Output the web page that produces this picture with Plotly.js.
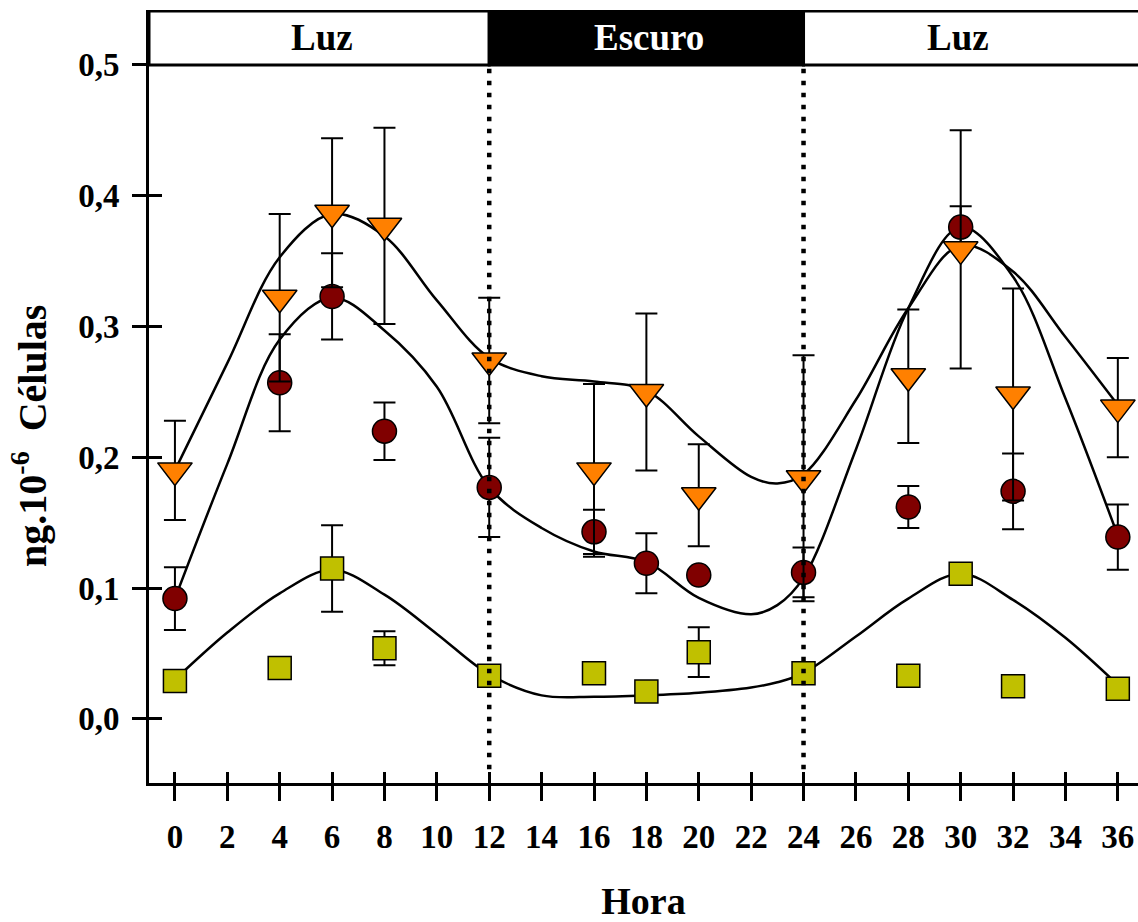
<!DOCTYPE html>
<html>
<head>
<meta charset="utf-8">
<script src="https://cdn.plot.ly/plotly-3.0.1.min.js"></script>
<style>html,body{margin:0;padding:0;background:#fff;}#chart{width:1138px;height:922px;}</style>
</head>
<body>
<div id="chart"></div>
<script>
// Sampling hours
var hours = [0, 4, 6, 8, 12, 16, 18, 20, 24, 28, 30, 32, 36];
// Series values (ng.10^-6 células)
var orangeVals = [0.190, 0.322, 0.387, 0.377, 0.274, 0.190, 0.250, 0.171, 0.184, 0.262, 0.359, 0.248, 0.238];
var orangeErr  = [0.038, 0.064, 0.057, 0.075, 0.048, 0.066, 0.060, 0.039, 0.094, 0.051, 0.091, 0.081, 0.038];
var redVals    = [0.092, 0.257, 0.323, 0.220, 0.177, 0.143, 0.119, 0.110, 0.112, 0.162, 0.376, 0.174, 0.139];
var redErr     = [0.024, 0.037, 0.033, 0.022, 0.038, 0.017, 0.023, 0.004, 0.019, 0.016, 0.016, 0.029, 0.025];
var yellowVals = [0.029, 0.039, 0.115, 0.054, 0.033, 0.035, 0.021, 0.051, 0.035, 0.033, 0.111, 0.025, 0.023];
var yellowErr  = [0, 0, 0.033, 0.013, 0, 0, 0, 0.019, 0, 0, 0, 0, 0];
// Fitted curves
var fitHours   = [0, 2, 4, 6, 8, 10, 12, 14, 16, 18, 20, 22, 23, 24, 26, 28, 30, 32, 34, 36];
var orangeFit  = [0.190, 0.272, 0.353, 0.386, 0.369, 0.320, 0.276, 0.262, 0.258, 0.251, 0.216, 0.185, 0.180, 0.187, 0.244, 0.314, 0.362, 0.342, 0.292, 0.240];
var redFit     = [0.092, 0.195, 0.290, 0.322, 0.297, 0.254, 0.177, 0.146, 0.128, 0.120, 0.0925, 0.080, 0.087, 0.108, 0.206, 0.314, 0.376, 0.338, 0.245, 0.140];
var yellowFit  = [0.030, 0.066, 0.096, 0.114, 0.095, 0.065, 0.034, 0.018, 0.017, 0.018, 0.020, 0.024, 0.028, 0.035, 0.063, 0.092, 0.111, 0.091, 0.062, 0.026];
// Tick values
var xTicks = [0,2,4,6,8,10,12,14,16,18,20,22,24,26,28,30,32,34,36];
var yTicks = [0, 0.1, 0.2, 0.3, 0.4, 0.5];
// Phase bar
var phaseLabels = ['Luz', 'Escuro', 'Luz'];
var phaseStart = [null, 12, 24];
var phaseEnd = [12, 24, null];
var phaseCenters = [5.6, 18.1, 29.9];
var phaseDividers = [12, 24];

var FONT = 'Liberation Serif, Times New Roman, serif';
var xRange = [-0.99, 36.77];
var yRange = [-0.049, 0.542];

function fitTrace(y) {
  return {x: fitHours, y: y, mode: 'lines', line: {color: 'black', width: 2.5, shape: 'spline', smoothing: 1},
          hoverinfo: 'skip', showlegend: false, xaxis: 'x', yaxis: 'y'};
}
function ptTrace(name, y, err, symbol, color, size) {
  return {x: hours, y: y, name: name, mode: 'markers', xaxis: 'x2', yaxis: 'y2', showlegend: false,
          marker: {symbol: symbol, size: size, color: color, line: {color: 'black', width: 1.5}},
          error_y: {type: 'data', array: err, visible: true, color: 'black', thickness: 2, width: 11}};
}

var traces = [
  fitTrace(orangeFit), fitTrace(redFit), fitTrace(yellowFit),
  ptTrace('Quadrado', yellowVals, yellowErr, 'square', '#C0C000', 23),
  ptTrace('Círculo', redVals, redErr, 'circle', '#800000', 24),
  ptTrace('Triângulo', orangeVals, orangeErr, 'triangle-down', '#FF8000', 30)
];

var shapes = [];
var annotations = [];
for (var i = 0; i < phaseLabels.length; i++) {
  var dark = phaseLabels[i] === 'Escuro';
  shapes.push({type: 'rect', xref: 'x', yref: 'y',
    x0: phaseStart[i] === null ? xRange[0] : phaseStart[i],
    x1: phaseEnd[i] === null ? xRange[1] + 0.5 : phaseEnd[i],
    y0: 0.5, y1: 0.5412, fillcolor: dark ? 'black' : 'white', line: {color: 'black', width: 3}, layer: 'above'});
  annotations.push({x: phaseCenters[i], y: 0.5212, xref: 'x', yref: 'y', text: '<b>' + phaseLabels[i] + '</b>',
    showarrow: false, font: {family: FONT, size: 37, color: dark ? 'white' : 'black'}});
}
for (var j = 0; j < phaseDividers.length; j++) {
  shapes.push({type: 'line', xref: 'x', yref: 'y', x0: phaseDividers[j], x1: phaseDividers[j], y0: 0.497, y1: -0.04,
    line: {color: 'black', width: 4.5, dash: '4.5px,7.5px'}, layer: 'above'});
}
// y-axis title (placed as in the reference, slightly below the plot centre)
annotations.push({xref: 'paper', yref: 'paper', x: -0.1203, y: 0.449, xanchor: 'center', yanchor: 'middle',
  textangle: -90, showarrow: false, text: '<b>ng.10<sup>-6</sup>  Células</b>',
  font: {family: FONT, size: 40, color: 'black'}});

var tickFont = {family: FONT, size: 33, color: 'black', weight: 'bold'};
var layout = {
  width: 1138, height: 922,
  margin: {l: 149, r: 0, t: 10, b: 139, pad: 0},
  paper_bgcolor: 'white', plot_bgcolor: 'white',
  separators: ',.',
  showlegend: false,
  font: {family: FONT, color: 'black'},
  xaxis: {range: xRange, tickvals: xTicks, ticktext: xTicks.map(String), ticks: 'outside', ticklen: 15, tickwidth: 3,
    tickcolor: 'black', showline: true, linewidth: 3, linecolor: 'black', showgrid: false, zeroline: false,
    tickfont: tickFont, ticklabelstandoff: 7,
    title: {text: '<b>Hora</b>', font: {family: FONT, size: 38, color: 'black'}, standoff: 45}},
  yaxis: {range: yRange, tickvals: yTicks, ticks: 'outside', ticklen: 14, tickwidth: 3, tickformat: '.1f',
    tickcolor: 'black', showline: true, linewidth: 3, linecolor: 'black', showgrid: false, zeroline: false,
    tickfont: tickFont, ticklabelstandoff: 6},
  xaxis2: {range: xRange, overlaying: 'x', anchor: 'y2', tickvals: xTicks, ticks: 'inside', ticklen: 11, tickwidth: 3,
    tickcolor: 'black', showticklabels: false, showline: false, showgrid: false, zeroline: false},
  yaxis2: {range: yRange, overlaying: 'y', anchor: 'x2', tickvals: yTicks, ticks: 'inside', ticklen: 13, tickwidth: 3,
    tickcolor: 'black', showticklabels: false, showline: false, showgrid: false, zeroline: false},
  shapes: shapes,
  annotations: annotations
};

Plotly.newPlot('chart', traces, layout, {displayModeBar: false, staticPlot: true});
</script>
</body>
</html>
